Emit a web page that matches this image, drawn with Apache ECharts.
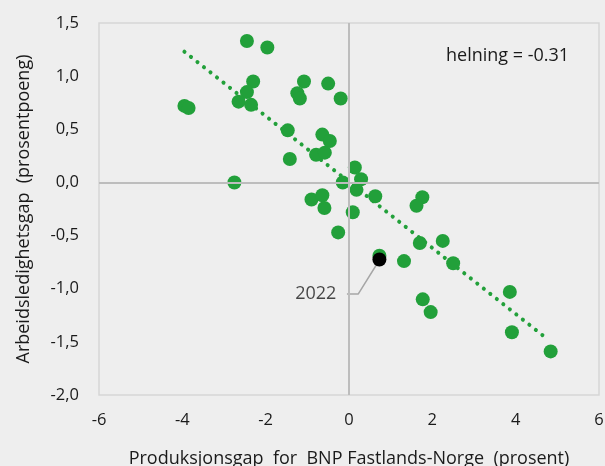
<!DOCTYPE html>
<html>
<head>
<meta charset="utf-8">
<script src="https://cdn.jsdelivr.net/npm/echarts@6/dist/echarts.min.js"></script>
<style>
  html, body { margin: 0; padding: 0; background: #eeeeee; }
  #chart { width: 605px; height: 466px; }
</style>
</head>
<body>
<div id="chart"></div>
<script>
// produksjonsgap (x) og arbeidsledighetsgap (y)
var gapX = [-2.45, -1.96, -3.95, -3.85, -2.30, -2.45, -2.65, -2.35, -1.08, -1.24, -1.18,
  -0.50, -0.20, -1.47, -0.64, -0.46, -0.79, -0.58, -1.42, -2.75, -0.15, -0.90, -0.64,
  -0.59, 0.14, 0.29, 0.18, 0.63, 1.76, 1.62, 0.09, 1.70, 2.25, 2.50, 1.32, 0.73, -0.26,
  3.86, 1.77, 1.96, 3.91, 4.84];
var gapY = [1.33, 1.27, 0.72, 0.70, 0.95, 0.85, 0.76, 0.73, 0.95, 0.84, 0.79,
  0.93, 0.79, 0.49, 0.45, 0.39, 0.26, 0.28, 0.22, 0.00, 0.00, -0.16, -0.12,
  -0.24, 0.14, 0.03, -0.07, -0.13, -0.14, -0.22, -0.28, -0.57, -0.55, -0.76, -0.74, -0.69, -0.47,
  -1.03, -1.10, -1.22, -1.41, -1.59];

// 2022
var point2022 = [0.73, -0.725];

// trendlinje, endepunkter
var trendX = [-3.95, 4.75];
var trendY = [1.23, -1.47];

// forbindelseslinje til etikett
var leaderX = [-0.05, 0.22, 0.73];
var leaderY = [-1.05, -1.05, -0.73];

var xTicks = { min: -6, max: 6, step: 2 };
var yTicks = { min: -2.0, max: 1.5, step: 0.5 };

var green = '#22a03a';
var fontFam = '"Open Sans", "Noto Sans", sans-serif';

function zip(a, b) {
  return a.map(function (v, i) { return [v, b[i]]; });
}

var chart = echarts.init(document.getElementById('chart'));
chart.setOption({
  backgroundColor: '#eeeeee',
  animation: false,
  textStyle: { fontFamily: fontFam },
  grid: {
    left: 99, right: 6, top: 23, bottom: 71,
    outerBoundsMode: 'none', containLabel: false,
    show: true, borderColor: '#d6d6d6', borderWidth: 1.5, backgroundColor: 'transparent'
  },
  graphic: [{
    type: 'text', left: 446, top: 47,
    style: { text: 'helning = -0.31', fill: '#1a1a1a', font: '18px ' + fontFam }
  }],
  xAxis: {
    type: 'value', min: xTicks.min, max: xTicks.max, interval: xTicks.step,
    name: 'Produksjonsgap  for  BNP Fastlands-Norge  (prosent)',
    nameLocation: 'middle', nameGap: 55,
    nameTextStyle: { fontSize: 18, color: '#1a1a1a', fontFamily: fontFam },
    axisLine: { show: false, onZero: false },
    axisTick: { show: false },
    splitLine: { show: false },
    axisLabel: { fontSize: 16.5, color: '#1a1a1a', margin: 17, fontFamily: fontFam }
  },
  yAxis: {
    type: 'value', min: yTicks.min, max: yTicks.max, interval: yTicks.step,
    name: 'Arbeidsledighetsgap  (prosentpoeng)',
    nameLocation: 'middle', nameGap: 66,
    nameTextStyle: { fontSize: 18, color: '#1a1a1a', fontFamily: fontFam },
    axisLine: { show: false, onZero: false },
    axisTick: { show: false },
    splitLine: { show: false },
    axisLabel: {
      fontSize: 16.5, color: '#1a1a1a', margin: 20, fontFamily: fontFam,
      formatter: function (v) { return v.toFixed(1).replace('.', ','); }
    }
  },
  series: [
    {
      type: 'line', data: [], z: 1, silent: true,
      markLine: {
        silent: true, symbol: 'none', label: { show: false },
        lineStyle: { color: '#bdbdbd', width: 2, type: 'solid' },
        data: [{ xAxis: 0 }, { yAxis: 0 }]
      }
    },
    {
      type: 'line', data: zip(trendX, trendY), z: 2, symbol: 'none', silent: true,
      lineStyle: { color: green, width: 4, type: [0.1, 8.2], cap: 'round' }
    },
    {
      type: 'line', data: zip(leaderX, leaderY), z: 2, symbol: 'none', silent: true,
      lineStyle: { color: '#a6a6a6', width: 1.5 }
    },
    {
      type: 'scatter', data: zip(gapX, gapY), z: 3,
      symbolSize: 14, itemStyle: { color: green, opacity: 1 }
    },
    {
      type: 'scatter', data: [point2022], z: 4,
      symbolSize: 14, itemStyle: { color: '#000000', opacity: 1 }
    },
    {
      type: 'scatter', data: [[leaderX[0], leaderY[0]]], z: 4,
      symbolSize: 1, itemStyle: { color: 'transparent' },
      label: {
        show: true, position: 'left', distance: 10, formatter: '2022',
        fontSize: 18, color: '#1a1a1a', fontFamily: fontFam
      }
    }
  ]
});
</script>
</body>
</html>
